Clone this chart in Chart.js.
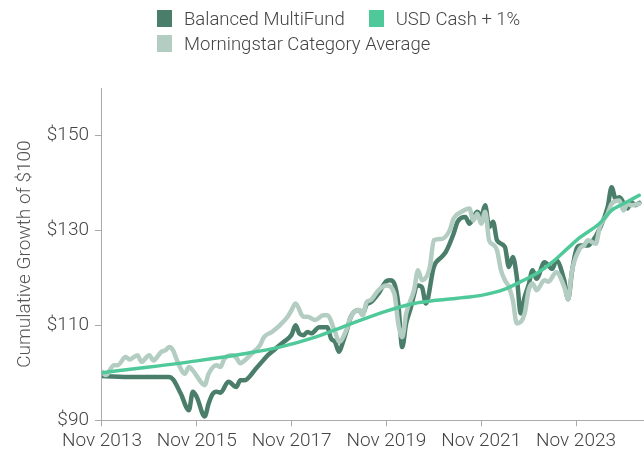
<!DOCTYPE html>
<html><head><meta charset="utf-8">
<script src="https://cdn.jsdelivr.net/npm/chart.js@4.4.0/dist/chart.umd.min.js"></script>
<style>
html,body{margin:0;padding:0;background:#fff;}
#wrap{position:relative;width:644px;height:458px;}
#c{position:absolute;left:0;top:0;}
#legend{position:absolute;left:157px;top:6px;font-family:Roboto,sans-serif;font-weight:300;font-size:18.5px;color:#444;}
.row{display:flex;align-items:center;height:25px;}
.item{display:flex;align-items:center;margin-right:24px;}
.box{width:15px;height:17px;margin-right:12px;}
</style></head>
<body><div id="wrap"><canvas id="c" width="644" height="458" style="width:644px;height:458px"></canvas><div id="legend"></div></div>
<script>
const seriesNames = ['Balanced MultiFund', 'USD Cash + 1%', 'Morningstar Category Average'];
const seriesColors = ['#4a7e6b', '#4fc99a', '#b4cdc3'];

// month offsets from Nov 2013
const fundMonths = [0,8,17,18,20,22,23,24,26,27,28,29,30,32,34,35,36,39,41,42,44,46,48,49,50,51,52,53,55,57,58,59,60,61,62,63,65,66,67,68,70,72,73,74,75,76,77,78,80,81,82,84,86,87,89,90,92,93,95,96,97,98,99,100,102,103,104,105,106,107,108,109,110,112,114,115,117,118,119,120,121,123,124,126,128,129,130,131,133,134,135,136];
const fundValues = [99.3,99.1,99.1,98.6,95.5,92.1,96.0,94.9,90.8,93.5,95.5,96.0,95.8,98.1,97.0,98.4,98.4,100.9,102.8,103.7,105.1,106.5,108.0,110.0,108.2,107.9,108.6,108.3,109.6,109.6,107.2,106.5,104.4,106.5,109.0,111.8,113.2,112.3,114.4,114.8,116.7,119.3,119.5,118.8,114.6,105.4,110.4,113.2,118.4,118.0,114.6,122.3,124.4,125.4,129.3,131.8,132.8,131.4,133.9,133.0,135.3,130.7,131.8,127.9,126.5,122.3,124.4,120.2,112.5,116.0,118.5,121.6,119.8,123.3,121.9,123.7,119.5,115.5,121.5,125.8,126.8,126.8,127.5,130.4,134.9,139.1,136.7,137.0,134.6,136.0,135.3,135.8];

const catMonths = [0,1,3,4,6,7,9,10,12,13,15,16,17,18,19,21,22,23,25,26,27,29,30,31,33,34,35,36,38,40,41,43,45,47,48,49,51,52,54,56,57,59,60,62,63,65,66,67,68,70,72,74,75,76,77,79,80,81,83,84,86,88,89,91,93,94,95,96,97,98,99,100,101,102,103,104,105,107,108,109,110,112,113,115,117,118,119,121,122,123,125,126,128,129,131,132,133,134,136];
const catValues = [100.2,99.5,101.6,101.6,103.3,102.8,103.7,102.3,103.7,102.6,104.4,104.7,105.4,104.7,102.6,99.8,101.2,100.5,98.1,97.4,99.8,101.6,101.2,103.0,103.7,103.2,102.0,102.5,104.1,105.8,107.5,108.6,110.0,111.8,113.2,114.6,111.8,111.8,111.1,112.1,112.1,108.6,106.5,109.3,111.8,113.2,112.1,114.9,115.3,117.4,118.4,116.7,110.4,107.5,112.5,117.4,121.6,119.5,122.3,127.9,128.2,130.0,132.5,133.9,134.6,132.1,133.5,131.4,133.9,127.9,127.0,125.8,121.6,119.5,118.1,115.3,110.4,112.5,117.4,118.8,117.4,119.5,119.2,121.2,118.1,115.5,121.6,126.2,126.8,127.9,127.2,130.7,133.5,135.6,136.3,134.2,135.6,135.3,135.6];

const cashMonths = [0,12,24,36,45,54,62,72,79,84,90,96,102,106,110,114,118,121,126,129,132,136];
const cashValues = [100.0,101.2,102.5,104.0,105.4,107.5,110.0,113.0,114.6,115.2,115.7,116.3,117.6,119.2,120.9,123.3,126.3,128.5,131.5,134.2,135.6,137.4];

const tickMonths = [0,24,48,72,96,120];
const tickLabels = ['Nov 2013','Nov 2015','Nov 2017','Nov 2019','Nov 2021','Nov 2023'];
const yTicks = [90,110,130,150];

function pts(ms, vs){ return ms.map((m,i)=>({x:m,y:vs[i]})); }

// HTML legend
const legendRows = [[0,1],[2]];
const lg = document.getElementById('legend');
legendRows.forEach(r=>{
  const row=document.createElement('div');row.className='row';
  r.forEach(i=>{
    const it=document.createElement('div');it.className='item';
    const b=document.createElement('span');b.className='box';b.style.background=seriesColors[i];
    const t=document.createElement('span');t.textContent=seriesNames[i];
    it.appendChild(b);it.appendChild(t);row.appendChild(it);
  });
  lg.appendChild(row);
});

const font = {family:'Roboto, sans-serif', size:19, weight:'300'};
const lineCommon = {pointRadius:0, borderCapStyle:'round', borderJoinStyle:'round', cubicInterpolationMode:'monotone', fill:false};

new Chart(document.getElementById('c'), {
  type:'line',
  data:{datasets:[
    Object.assign({label:seriesNames[0], data:pts(fundMonths,fundValues), borderColor:seriesColors[0], borderWidth:4.5, order:3}, lineCommon),
    Object.assign({label:seriesNames[2], data:pts(catMonths,catValues), borderColor:seriesColors[2], borderWidth:4.5, order:2}, lineCommon),
    Object.assign({label:seriesNames[1], data:pts(cashMonths,cashValues), borderColor:seriesColors[1], borderWidth:3.5, order:1}, lineCommon)
  ]},
  options:{
    responsive:false, animation:false,
    layout:{padding:{top:88,right:0,bottom:1,left:14}},
    plugins:{legend:{display:false}, tooltip:{enabled:false}},
    scales:{
      x:{type:'linear', min:0, max:137.2,
        afterBuildTicks:(s)=>{ s.ticks = tickMonths.map(v=>({value:v})); },
        ticks:{font, color:'#444', maxRotation:0, autoSkip:false, padding:4,
          callback:(v)=>{ const i=tickMonths.indexOf(v); return i>=0?tickLabels[i]:''; }},
        grid:{drawOnChartArea:false, drawTicks:true, tickLength:6, color:'#aaa'},
        border:{color:'#aaa', width:1}
      },
      y:{min:90, max:160,
        afterBuildTicks:(s)=>{ s.ticks = yTicks.map(v=>({value:v})); },
        ticks:{font, color:'#444', padding:6, callback:(v)=>'$'+v},
        grid:{drawOnChartArea:false, drawTicks:true, tickLength:7, color:'#aaa'},
        border:{color:'#aaa', width:1},
        title:{display:true, text:'Cumulative Growth of $100', font:{family:'Roboto, sans-serif', size:19, weight:'300'}, color:'#555', padding:{top:0,bottom:4}}
      }
    }
  }
});
</script>
</body></html>
